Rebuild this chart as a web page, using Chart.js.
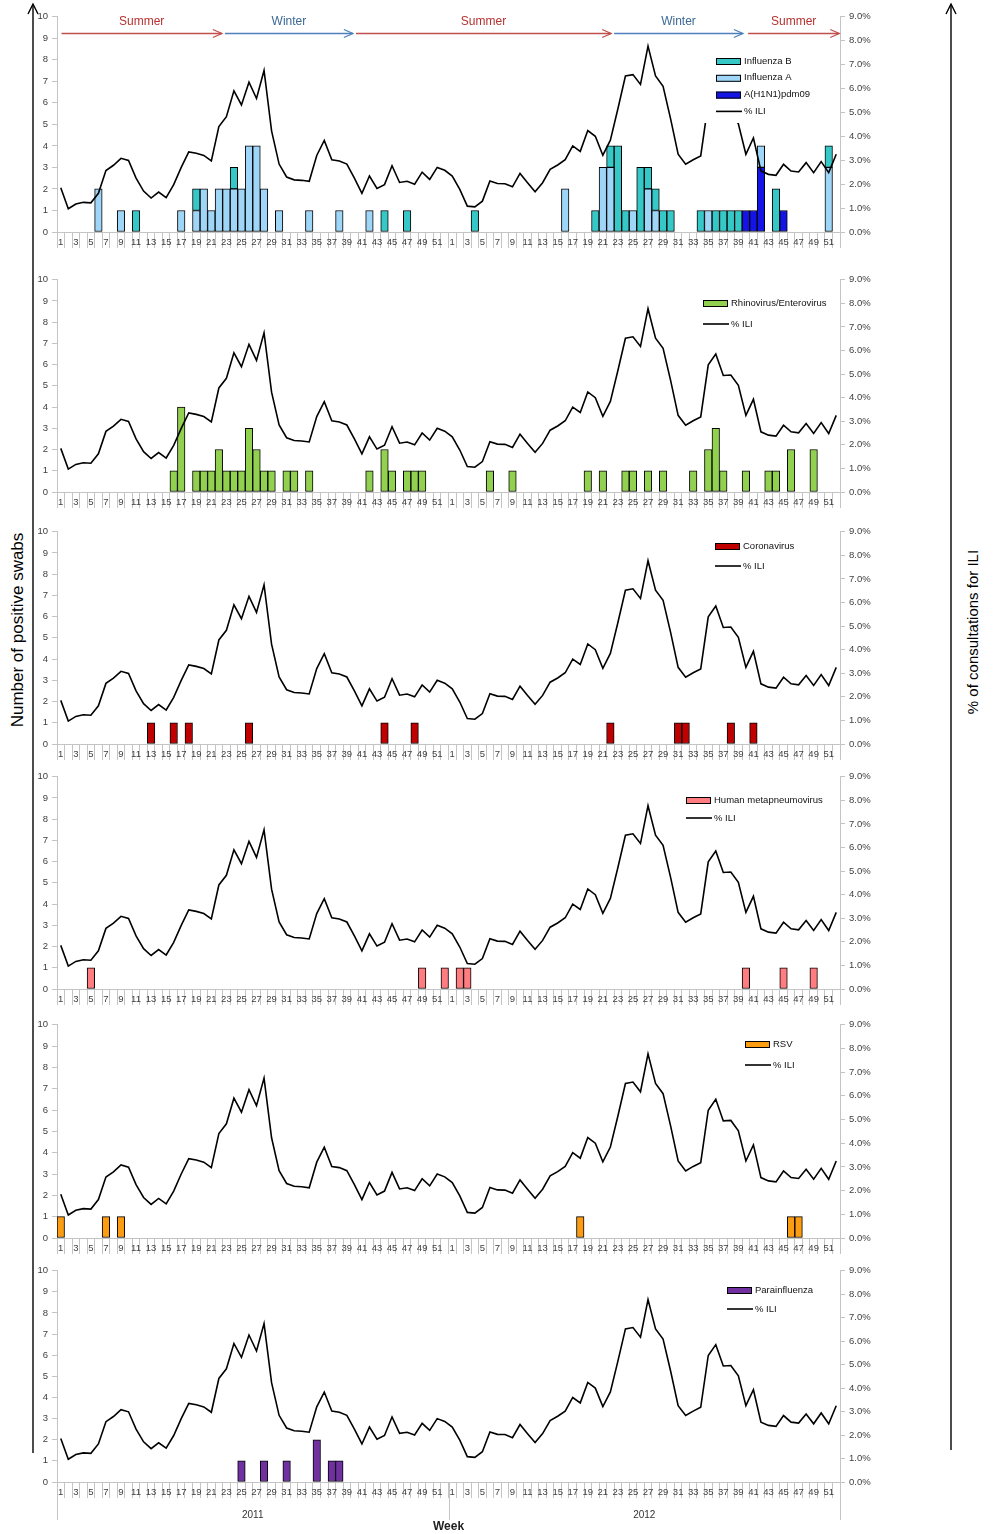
<!DOCTYPE html>
<html>
<head>
<meta charset="utf-8">
<title>Positive swabs by virus and % ILI, 2011-2012</title>
<script src="https://cdn.jsdelivr.net/npm/chart.js@4.4.0/dist/chart.umd.min.js"></script>
<style>
  body { margin: 0; background: #fff; }
  #page { position: relative; width: 993px; height: 1534px; overflow: hidden; font-family: 'Liberation Sans', Arial, sans-serif; }
  #page canvas { position: absolute; left: 0; }
  .axis-title { position: absolute; white-space: nowrap; transform: translate(-50%, -50%) rotate(-90deg); color: #000; }
</style>
</head>
<body>
<div id="page">
  <svg width="993" height="1534" style="position:absolute;left:0;top:0">
    <line x1="33" y1="1453" x2="33" y2="5" stroke="#000" stroke-width="1.4"/>
    <polyline points="28,14 33,4 38,14" fill="none" stroke="#000" stroke-width="1.4"/>
    <line x1="951" y1="1450" x2="951" y2="5" stroke="#000" stroke-width="1.4"/>
    <polyline points="946,14 951,4 956,14" fill="none" stroke="#000" stroke-width="1.4"/>
  </svg>
  <div class="axis-title" style="left:18px;top:630px;font-size:17px">Number of positive swabs</div>
  <div class="axis-title" style="left:972px;top:632px;font-size:15px">% of consultations for ILI</div>
</div>
<script>
// week numbers, shown for each year
const weeks = [1,2,3,4,5,6,7,8,9,10,11,12,13,14,15,16,17,18,19,20,21,22,23,24,25,26,
               27,28,29,30,31,32,33,34,35,36,37,38,39,40,41,42,43,44,45,46,47,48,49,50,51,52];
const years = ['2011', '2012'];
const weekLabels = years.flatMap(() => weeks.map(String));

// % of consultations for ILI (right axis)
const ili2011 = [1.85,0.97,1.17,1.24,1.22,1.62,2.57,2.79,3.08,2.99,2.25,1.71,1.42,
                 1.67,1.44,1.98,2.70,3.35,3.29,3.20,2.97,4.41,4.82,5.90,5.31,6.26,
                 5.58,6.75,4.23,2.84,2.30,2.18,2.16,2.12,3.20,3.83,3.02,2.97,2.84,
                 2.25,1.62,2.34,1.82,1.98,2.77,2.07,2.12,2.00,2.50,2.20,2.70,2.58];
const ili2012 = [2.34,1.78,1.08,1.05,1.29,2.13,2.03,2.02,1.89,2.45,2.06,1.68,2.06,
                 2.62,2.80,3.02,3.60,3.37,4.24,4.00,3.21,3.84,5.15,6.52,6.58,6.17,
                 7.77,6.52,6.09,4.73,3.25,2.83,3.02,3.18,5.39,5.85,4.94,4.96,4.52,
                 3.25,3.93,2.55,2.41,2.37,2.83,2.55,2.51,2.90,2.48,2.94,2.48,3.25];

// number of positive swabs per week
const fluB2011 = [0,0,0,0,0,0,0,0,0,0,1,0,0, 0,0,0,0,0,1,0,0,0,0,1,0,0, 0,0,0,0,0,0,0,0,0,0,0,0,0, 0,0,0,0,1,0,0,1,0,0,0,0,0];
const fluB2012 = [0,0,0,1,0,0,0,0,0,0,0,0,0, 0,0,0,0,0,0,1,0,1,4,1,0,3, 1,1,1,1,0,0,0,1,0,1,1,1,1, 0,0,0,0,2,0,0,0,0,0,0,1,0];
const fluA2011 = [0,0,0,0,0,2,0,0,1,0,0,0,0, 0,0,0,1,0,1,2,1,2,2,2,2,4, 4,2,0,1,0,0,0,1,0,0,0,1,0, 0,0,1,0,0,0,0,0,0,0,0,0,0];
const fluA2012 = [0,0,0,0,0,0,0,0,0,0,0,0,0, 0,0,2,0,0,0,0,3,3,0,0,1,0, 2,1,0,0,0,0,0,0,1,0,0,0,0, 0,0,1,0,0,0,0,0,0,0,0,3,0];
const h1n12011 = [0,0,0,0,0,0,0,0,0,0,0,0,0, 0,0,0,0,0,0,0,0,0,0,0,0,0, 0,0,0,0,0,0,0,0,0,0,0,0,0, 0,0,0,0,0,0,0,0,0,0,0,0,0];
const h1n12012 = [0,0,0,0,0,0,0,0,0,0,0,0,0, 0,0,0,0,0,0,0,0,0,0,0,0,0, 0,0,0,0,0,0,0,0,0,0,0,0,0, 1,1,3,0,0,1,0,0,0,0,0,0,0];
const rhino2011 = [0,0,0,0,0,0,0,0,0,0,0,0,0, 0,0,1,4,0,1,1,1,2,1,1,1,3, 2,1,1,0,1,1,0,1,0,0,0,0,0, 0,0,1,0,2,1,0,1,1,1,0,0,0];
const rhino2012 = [0,0,0,0,0,1,0,0,1,0,0,0,0, 0,0,0,0,0,1,0,1,0,0,1,1,0, 1,0,1,0,0,0,1,0,2,3,1,0,0, 1,0,0,1,1,0,2,0,0,2,0,0,0];
const corona2011 = [0,0,0,0,0,0,0,0,0,0,0,0,1, 0,0,1,0,1,0,0,0,0,0,0,0,1, 0,0,0,0,0,0,0,0,0,0,0,0,0, 0,0,0,0,1,0,0,0,1,0,0,0,0];
const corona2012 = [0,0,0,0,0,0,0,0,0,0,0,0,0, 0,0,0,0,0,0,0,0,1,0,0,0,0, 0,0,0,0,1,1,0,0,0,0,0,1,0, 0,1,0,0,0,0,0,0,0,0,0,0,0];
const hmpv2011 = [0,0,0,0,1,0,0,0,0,0,0,0,0, 0,0,0,0,0,0,0,0,0,0,0,0,0, 0,0,0,0,0,0,0,0,0,0,0,0,0, 0,0,0,0,0,0,0,0,0,1,0,0,1];
const hmpv2012 = [0,1,1,0,0,0,0,0,0,0,0,0,0, 0,0,0,0,0,0,0,0,0,0,0,0,0, 0,0,0,0,0,0,0,0,0,0,0,0,0, 1,0,0,0,0,1,0,0,0,1,0,0,0];
const rsv2011 = [1,0,0,0,0,0,1,0,1,0,0,0,0, 0,0,0,0,0,0,0,0,0,0,0,0,0, 0,0,0,0,0,0,0,0,0,0,0,0,0, 0,0,0,0,0,0,0,0,0,0,0,0,0];
const rsv2012 = [0,0,0,0,0,0,0,0,0,0,0,0,0, 0,0,0,0,1,0,0,0,0,0,0,0,0, 0,0,0,0,0,0,0,0,0,0,0,0,0, 0,0,0,0,0,0,1,1,0,0,0,0,0];
const para2011 = [0,0,0,0,0,0,0,0,0,0,0,0,0, 0,0,0,0,0,0,0,0,0,0,0,1,0, 0,1,0,0,1,0,0,0,2,0,1,1,0, 0,0,0,0,0,0,0,0,0,0,0,0,0];
const para2012 = [0,0,0,0,0,0,0,0,0,0,0,0,0, 0,0,0,0,0,0,0,0,0,0,0,0,0, 0,0,0,0,0,0,0,0,0,0,0,0,0, 0,0,0,0,0,0,0,0,0,0,0,0,0];

// seasons across the top, in week slots counted from week 1 of 2011
const seasonNames = ['Summer', 'Winter', 'Summer', 'Winter', 'Summer'];
const seasonFrom = [0.6, 22.3, 39.7, 74.0, 91.8];
const seasonTo = [21.9, 39.3, 73.6, 91.1, 103.9];

const panels = [
  { plotTop: 15, plotH: 217, legendX: 716, legendY: 61, legendGap: 16.8, box: [703, 47, 112, 76],
    bars: [
      { label: 'A(H1N1)pdm09', color: '#1414e6', values: h1n12011.concat(h1n12012) },
      { label: 'Influenza A', color: '#9fd5f6', values: fluA2011.concat(fluA2012) },
      { label: 'Influenza B', color: '#36c7c7', values: fluB2011.concat(fluB2012) }
    ], legendOrder: [2, 1, 0], seasons: true },
  { plotTop: 278, plotH: 214, legendX: 703, legendY: 303, legendGap: 21, box: [698, 294, 135, 38],
    bars: [{ label: 'Rhinovirus/Enterovirus', color: '#92d050', values: rhino2011.concat(rhino2012) }] },
  { plotTop: 530, plotH: 214, legendX: 715, legendY: 546, legendGap: 20, box: [710, 537, 85, 37],
    bars: [{ label: 'Coronavirus', color: '#c00000', values: corona2011.concat(corona2012) }] },
  { plotTop: 775, plotH: 214, legendX: 686, legendY: 800, legendGap: 18, box: [681, 791, 145, 35],
    bars: [{ label: 'Human metapneumovirus', color: '#ff7c80', values: hmpv2011.concat(hmpv2012) }] },
  { plotTop: 1023, plotH: 215, legendX: 745, legendY: 1044, legendGap: 21, box: [740, 1035, 58, 38],
    bars: [{ label: 'RSV', color: '#fb9c12', values: rsv2011.concat(rsv2012) }] },
  { plotTop: 1269, plotH: 213, legendX: 727, legendY: 1290, legendGap: 19, box: [722, 1281, 95, 36],
    bars: [{ label: 'Parainfluenza', color: '#7030a0', values: para2011.concat(para2012) }], years: true }
];

const tickFont = { family: "'Liberation Sans Narrow', 'Liberation Sans', Arial, sans-serif", size: 9.5 };
const axisGrey = '#c4c4c4';

const panelDecor = {
  id: 'panelDecor',
  afterDatasetsDraw(chart, args, opts) {
    const ctx = chart.ctx;
    const x = chart.scales.x, y = chart.scales.y;
    const slot = x.width / weekLabels.length;
    ctx.save();
    if (opts.seasons) {
      const ay = y.getPixelForValue(9.22);
      const ty = y.getPixelForValue(9.75);
      seasonNames.forEach((name, i) => {
        const x0 = x.left + seasonFrom[i] * slot;
        const x1 = x.left + seasonTo[i] * slot;
        ctx.strokeStyle = name === 'Summer' ? '#c0504d' : '#4f81bd';
        ctx.lineWidth = 1.3;
        ctx.beginPath(); ctx.moveTo(x0, ay); ctx.lineTo(x1, ay); ctx.stroke();
        ctx.beginPath(); ctx.moveTo(x1 - 9, ay - 4); ctx.lineTo(x1, ay); ctx.lineTo(x1 - 9, ay + 4); ctx.stroke();
        ctx.fillStyle = name === 'Summer' ? '#b5312f' : '#3b6896';
        ctx.font = '12px "Liberation Sans", Arial, sans-serif';
        ctx.textAlign = 'center';
        ctx.textBaseline = 'middle';
        ctx.fillText(name, (x0 + x1) / 2, ty);
      });
    }
    // legend in a white box inside the plot
    const top = opts.top;
    ctx.fillStyle = '#fff';
    ctx.fillRect(opts.box[0], opts.box[1] - top, opts.box[2], opts.box[3]);
    ctx.font = '9.5px "Liberation Sans", Arial, sans-serif';
    ctx.textAlign = 'left';
    ctx.textBaseline = 'middle';
    const rows = opts.items.length;
    for (let r = 0; r <= rows; r++) {
      const ry = opts.legendY - top + r * opts.legendGap;
      const lx = opts.legendX;
      if (r < rows) {
        ctx.fillStyle = opts.items[r].color;
        ctx.fillRect(lx, ry - 3, 25, 7);
        ctx.strokeStyle = '#000';
        ctx.lineWidth = 1;
        ctx.strokeRect(lx + 0.5, ry - 2.5, 24, 6);
      } else {
        ctx.strokeStyle = '#000';
        ctx.lineWidth = 1.6;
        ctx.beginPath(); ctx.moveTo(lx, ry); ctx.lineTo(lx + 26, ry); ctx.stroke();
      }
      ctx.fillStyle = '#111';
      ctx.fillText(r < rows ? opts.items[r].label : '% ILI', lx + 28, ry);
    }
    ctx.restore();
  },
  afterDraw(chart, args, opts) {
    if (!opts.years) return;
    const ctx = chart.ctx;
    const x = chart.scales.x;
    const slot = x.width / weekLabels.length;
    const top = opts.top;
    ctx.save();
    ctx.strokeStyle = axisGrey;
    ctx.lineWidth = 1;
    [0, 52, 104].forEach(k => {
      const px = Math.round(x.left + k * slot) + 0.5;
      ctx.beginPath(); ctx.moveTo(px, x.top); ctx.lineTo(px, 1520 - top); ctx.stroke();
    });
    ctx.fillStyle = '#333';
    ctx.font = '10px "Liberation Sans", Arial, sans-serif';
    ctx.textAlign = 'center';
    ctx.textBaseline = 'middle';
    years.forEach((yr, i) => ctx.fillText(yr, x.left + (i * 52 + 26) * slot, 1515 - top));
    ctx.font = 'bold 12px "Liberation Sans", Arial, sans-serif';
    ctx.fillStyle = '#222';
    ctx.fillText('Week', x.left + 52 * slot, 1527 - top);
    ctx.restore();
  }
};

const page = document.getElementById('page');

panels.forEach((p, pi) => {
  const canvasTop = p.plotTop - 8;
  const isLast = pi === panels.length - 1;
  const height = isLast ? 1534 - canvasTop : 8 + p.plotH + 27;
  const bottomPad = height - 8 - p.plotH - 27;
  const canvas = document.createElement('canvas');
  canvas.width = 993;
  canvas.height = height;
  canvas.style.top = canvasTop + 'px';
  page.appendChild(canvas);

  const datasets = p.bars.map(b => ({
    type: 'bar',
    label: b.label,
    data: b.values,
    backgroundColor: b.color,
    borderColor: '#000',
    borderWidth: 1,
    borderSkipped: false,
    categoryPercentage: 1.0,
    barPercentage: 1.0,
    yAxisID: 'y',
    order: 2
  }));
  datasets.push({
    type: 'line',
    label: '% ILI',
    data: ili2011.concat(ili2012),
    borderColor: '#000',
    borderWidth: 1.6,
    pointRadius: 0,
    tension: 0,
    yAxisID: 'y2',
    order: 0
  });

  const order = p.legendOrder || p.bars.map((b, i) => i);

  new Chart(canvas, {
    type: 'bar',
    data: { labels: weekLabels, datasets: datasets },
    options: {
      responsive: false,
      animation: false,
      layout: { padding: { top: 8, bottom: bottomPad, left: 0, right: 0 } },
      plugins: {
        legend: { display: false },
        tooltip: { enabled: false },
        panelDecor: {
          top: canvasTop,
          box: p.box,
          legendX: p.legendX,
          legendY: p.legendY,
          legendGap: p.legendGap,
          items: order.map(i => ({ label: p.bars[i].label, color: p.bars[i].color })),
          seasons: !!p.seasons,
          years: !!p.years
        }
      },
      scales: {
        x: {
          stacked: true,
          offset: true,
          afterFit: s => { s.height = 27; },
          grid: { offset: true, drawOnChartArea: false, drawTicks: true, tickLength: 16, color: axisGrey },
          border: { color: axisGrey },
          ticks: {
            autoSkip: false, maxRotation: 0, minRotation: 0, padding: -11,
            color: '#404040', font: tickFont,
            callback: (v, i) => (i % 2 === 0 ? weekLabels[i] : '')
          }
        },
        y: {
          stacked: true,
          position: 'left',
          min: 0, max: 10,
          afterFit: s => { s.width = 57; },
          grid: { drawOnChartArea: false, tickLength: 5, color: axisGrey },
          border: { color: axisGrey },
          ticks: { stepSize: 1, padding: 4, color: '#404040', font: tickFont }
        },
        y2: {
          position: 'right',
          min: 0, max: 9,
          afterFit: s => { s.width = 153; },
          grid: { drawOnChartArea: false, tickLength: 5, color: axisGrey },
          border: { color: axisGrey },
          ticks: { stepSize: 1, padding: 4, color: '#404040', font: tickFont,
                   callback: v => v.toFixed(1) + '%' }
        }
      }
    },
    plugins: [panelDecor]
  });
});
</script>
</body>
</html>
